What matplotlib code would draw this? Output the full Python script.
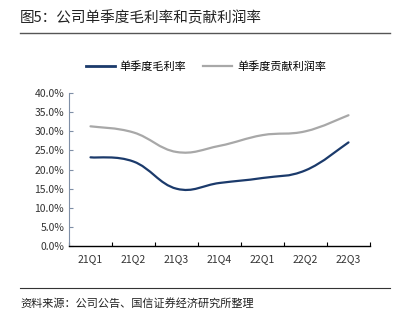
import matplotlib.pyplot as plt
import numpy as np
from matplotlib.path import Path
from matplotlib.patches import PathPatch
from matplotlib.lines import Line2D

plt.rcParams['font.family'] = ['Noto Sans CJK SC', 'DejaVu Sans']

# data
quarters = ['21Q1', '21Q2', '21Q3', '21Q4', '22Q1', '22Q2', '22Q3']
gross_margin = [23.2, 22.1, 15.0, 16.5, 17.8, 19.8, 27.1]
contrib_margin = [31.3, 29.7, 24.6, 26.2, 29.0, 30.0, 34.2]
yticks = [0, 5, 10, 15, 20, 25, 30, 35, 40]

blue = '#1B3A6B'
gray = '#A8A8A8'


def smooth_path(x, y, t=0.2):
    # cubic bezier through the points (catmull-rom style control points)
    x = np.asarray(x, float)
    y = np.asarray(y, float)
    verts = [(x[0], y[0])]
    codes = [Path.MOVETO]
    n = len(x)
    for i in range(n - 1):
        x0, y0 = (x[i - 1], y[i - 1]) if i > 0 else (x[i], y[i])
        x3, y3 = (x[i + 2], y[i + 2]) if i + 2 < n else (x[i + 1], y[i + 1])
        c1 = (x[i] + (x[i + 1] - x0) * t, y[i] + (y[i + 1] - y0) * t)
        c2 = (x[i + 1] - (x3 - x[i]) * t, y[i + 1] - (y3 - y[i]) * t)
        verts += [c1, c2, (x[i + 1], y[i + 1])]
        codes += [Path.CURVE4] * 3
    return Path(verts, codes)


fig = plt.figure(figsize=(4, 3.23), dpi=100)
ax = fig.add_axes([0.1725, 0.238, 0.7525, 0.474])

xs = np.arange(len(quarters)) + 0.5
for vals, col in [(contrib_margin, gray), (gross_margin, blue)]:
    ax.add_patch(PathPatch(smooth_path(xs, vals), facecolor='none',
                           edgecolor=col, lw=1.6, capstyle='round'))

ax.set_xlim(0, len(quarters))
ax.set_ylim(0, 40)
ax.set_xticks(np.arange(len(quarters) + 1))
ax.set_xticklabels([])
ax.set_xticks(xs, minor=True)
ax.set_xticklabels(quarters, minor=True, fontsize=7.5, color='#333333')
ax.tick_params(axis='x', which='major', direction='in', length=3, width=0.8)
ax.tick_params(axis='x', which='minor', length=0, pad=6)
ax.set_yticks(yticks)
ax.set_yticklabels(['%.1f%%' % v for v in yticks], fontsize=7.5, color='#333333')
ax.tick_params(axis='y', direction='in', length=3, width=0.8, color='#7F8FA6')

for s in ['top', 'right']:
    ax.spines[s].set_visible(False)
ax.spines['left'].set_color('#7F8FA6')
ax.spines['bottom'].set_color('black')
ax.spines['bottom'].set_linewidth(1.0)

handles = [Line2D([], [], color=blue, lw=2.0), Line2D([], [], color=gray, lw=1.6)]
fig.legend(handles, ['单季度毛利率', '单季度贡献利润率'], loc='center',
           bbox_to_anchor=(0.515, 1 - 67 / 323), ncol=2, frameon=False,
           fontsize=8, handlelength=2.6, handletextpad=0.45, columnspacing=1.5)

fig.text(20 / 400, 1 - 18 / 323, '图5：公司单季度毛利率和贡献利润率',
         fontsize=10.5, va='center', ha='left', color='#222222')
fig.add_artist(Line2D([20 / 400, 390 / 400], [1 - 33 / 323] * 2,
                      color='#555555', lw=1.0))
fig.add_artist(Line2D([20 / 400, 390 / 400], [1 - 288 / 323] * 2,
                      color='#333333', lw=0.8))
fig.text(20 / 400, 1 - 303 / 323, '资料来源：公司公告、国信证券经济研究所整理',
         fontsize=8, va='center', ha='left', color='#222222')

fig.savefig('out.png', dpi=100)
